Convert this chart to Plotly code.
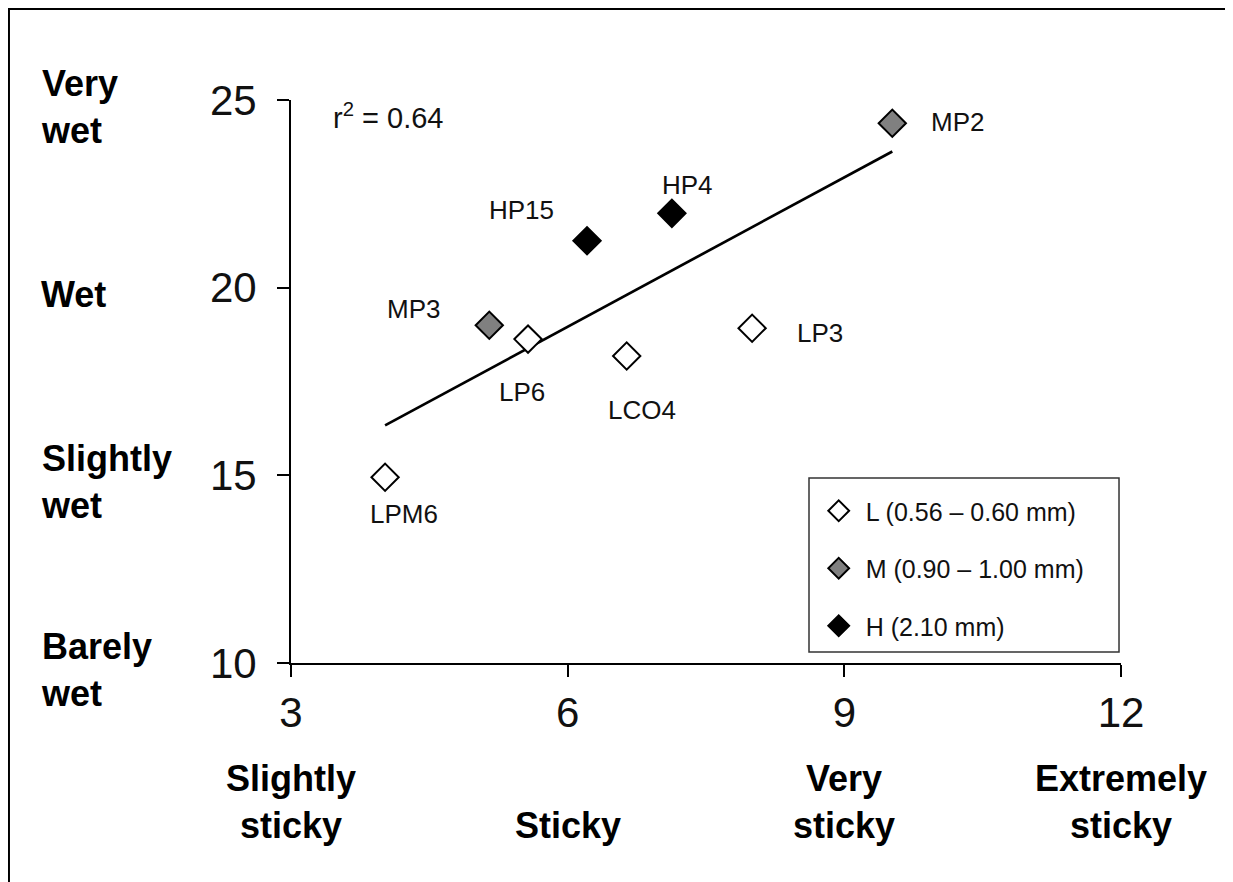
import numpy as np
import plotly.graph_objects as go

# ---- data ----
names = ["LPM6", "MP3", "LP6", "HP15", "LCO4", "HP4", "LP3", "MP2"]
stickiness = [4.02, 5.15, 5.57, 6.21, 6.64, 7.13, 8.00, 9.52]
wetness = [14.95, 19.00, 18.63, 21.25, 18.18, 21.98, 18.92, 24.38]
groups = ["L", "M", "L", "H", "L", "H", "L", "M"]

group_order = ["L", "M", "H"]
group_labels = {"L": "L (0.56 – 0.60 mm)", "M": "M (0.90 – 1.00 mm)", "H": "H (2.10 mm)"}
group_fill = {"L": "#ffffff", "M": "#808080", "H": "#000000"}

x_ticks = [3, 6, 9, 12]
y_ticks = [10, 15, 20, 25]
x_cat_pos = [3, 6, 9, 12]
x_cat_labels = ["Slightly<br>sticky", "Sticky", "Very<br>sticky", "Extremely<br>sticky"]
y_cat_pos = [25, 20, 15, 10]
y_cat_labels = ["Very<br>wet", "Wet", "Slightly<br>wet", "Barely<br>wet"]

# label offsets (px) relative to each point
label_dx = [19, -76, -6, -66, 15, 16, 68, 65]
label_dy = [37, -16, 53, -31, 54, -28, 5, -1]

FONT = "Arial, Liberation Sans, sans-serif"

fig = go.Figure()

# regression line
xs = np.array(stickiness)
ys = np.array(wetness)
slope, intercept = np.polyfit(xs, ys, 1)
r2 = np.corrcoef(xs, ys)[0, 1] ** 2
lx = np.array([xs.min(), xs.max()])
fig.add_trace(go.Scatter(x=lx, y=slope * lx + intercept, mode="lines",
                         line=dict(color="black", width=2.7),
                         showlegend=False, hoverinfo="skip"))

for g in group_order:
    idx = [i for i, gg in enumerate(groups) if gg == g]
    fig.add_trace(go.Scatter(
        x=[stickiness[i] for i in idx], y=[wetness[i] for i in idx],
        mode="markers", name="\u00a0" + group_labels[g], legendgroup=g,
        marker=dict(symbol="diamond", size=21, color=group_fill[g],
                    line=dict(color="black", width=2)),
    ))

annotations = []
for i, n in enumerate(names):
    annotations.append(dict(x=stickiness[i], y=wetness[i], text=n, showarrow=False,
                            xshift=label_dx[i], yshift=-label_dy[i],
                            font=dict(family=FONT, size=26, color="#111")))

annotations.append(dict(xref="paper", yref="paper", x=0.048, y=0.972,
                        xanchor="left", yanchor="middle", showarrow=False,
                        text=f"r<sup>2</sup> = {r2:.2f}",
                        font=dict(family=FONT, size=29, color="#111")))

for xp, t in zip(x_cat_pos, x_cat_labels):
    annotations.append(dict(x=xp, xref="x", yref="paper", y=-0.3286, yanchor="bottom",
                            xanchor="center", showarrow=False, text=t, align="center",
                            font=dict(family=FONT, size=36, color="black", weight="bold")))
for yp, t in zip(y_cat_pos, y_cat_labels):
    annotations.append(dict(y=yp, yref="y", xref="paper", x=-0.304, xanchor="left",
                            yanchor="middle", yshift=-7, showarrow=False, text=t, align="left",
                            font=dict(family=FONT, size=36, color="black", weight="bold")))

fig.update_layout(
    width=1233, height=882,
    margin=dict(l=283, r=120, t=92, b=227),
    paper_bgcolor="white", plot_bgcolor="white",
    font=dict(family=FONT, color="black"),
    annotations=annotations,
    showlegend=True,
    legend=dict(x=0.6358, y=0.3108, xanchor="left", yanchor="top",
                borderwidth=0, bgcolor="rgba(0,0,0,0)",
                font=dict(family=FONT, size=25, color="#111"),
                tracegroupgap=22, itemsizing="trace"),
    shapes=[
        dict(type="path", xref="paper", yref="paper",
             path="M -0.3398,-0.6 L -0.3398,1.1616 L 1.1385,1.1616 L 1.1385,-0.6",
             line=dict(color="black", width=2)),
        dict(type="rect", xref="paper", yref="paper", x0=0.6241, x1=0.9976,
             y0=0.0195, y1=0.3286, line=dict(color="#333", width=1.5),
             fillcolor="white", layer="below"),
    ],
)
fig.update_xaxes(range=[3, 12], tickvals=x_ticks, showgrid=False, zeroline=False,
                 showline=True, linecolor="black", linewidth=2, ticks="outside",
                 ticklen=12, tickwidth=2, tickcolor="black",
                 tickfont=dict(family=FONT, size=42, color="#111"), ticklabelstandoff=0)
fig.update_yaxes(range=[10, 25], tickvals=y_ticks, showgrid=False, zeroline=False,
                 showline=True, linecolor="black", linewidth=2, ticks="outside",
                 ticklen=12, tickwidth=2, tickcolor="black",
                 tickfont=dict(family=FONT, size=42, color="#111"), ticklabelstandoff=12)

fig.write_html("out.html")
